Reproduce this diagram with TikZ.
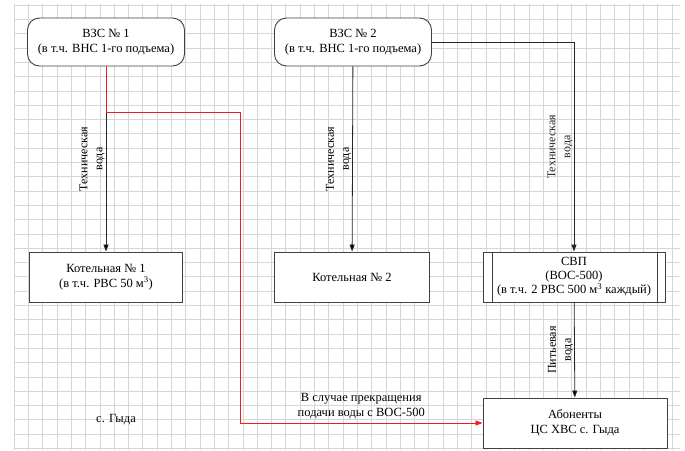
\documentclass[tikz,border=0pt]{standalone}
\usepackage{fontspec}
\setmainfont{Liberation Serif}
\usetikzlibrary{arrows.meta, positioning}
\definecolor{reserve}{RGB}{232,32,36}

\begin{document}
\begin{tikzpicture} [x=1pt, y=-1pt, font=\fontsize{12.5}{15}\selectfont,
		site/.style={draw=black!75, line width=0.9pt, fill=white, rounded corners=12pt, minimum width=157pt, minimum height=48pt, align=center},
		unit/.style={draw=black!75, line width=0.9pt, fill=white, minimum height=50pt, align=center, inner sep=1pt},
		flowlabel/.style={rotate=90, anchor=south, align=center, font=\fontsize{12}{15}\selectfont, inner sep=1pt},
		gridline/.style={black!16, line width=0.5pt}]
		\useasboundingbox (0,0) rectangle (685,450);
		% grid
		\foreach \i in {0,...,46}
			\draw [gridline] (14+\i*14.3, 4) -- (14+\i*14.3, 450);
		\foreach \j in {0,...,31}
			\draw [gridline] (14, 5+\j*14.3) -- (680, 5+\j*14.3);

		\node (vzs1) [site] at (106,42) {ВЗС № 1\\(в т.ч. ВНС 1-го подъема)};
		\node (vzs2) [site] at (353,42) {ВЗС № 2\\(в т.ч. ВНС 1-го подъема)};
		\node (kot1) [unit, minimum width=153pt] at (106,277) {Котельная № 1\\(в т.ч. РВС 50 м\textsuperscript{3})};
		\node (kot2) [unit, minimum width=155pt] at (352,277) {Котельная № 2};
		\node (svp) [unit, minimum width=182pt, font=\fontsize{12.5}{14}\selectfont] at (574,277) {СВП\\(ВОС-500)\\(в т.ч. 2 РВС 500 м\textsuperscript{3} каждый)};
		\node (abon) [unit, minimum width=184pt] at (575,423) {Абоненты\\ЦС ХВС с. Гыда};
		\node (gyda) at (116,420) {с. Гыда};
		\coordinate (turn) at (240,112);

		% process box sides
		\draw [black!75, line width=0.9pt] ([xshift=10pt]svp.north west) -- ([xshift=10pt]svp.south west);
		\draw [black!75, line width=0.9pt] ([xshift=-8pt]svp.north east) -- ([xshift=-8pt]svp.south east);

		\path [-{Triangle[length=7pt, width=5pt]}, line width=0.8pt, draw=black!85]
		(vzs1) edge node [flowlabel] {Техническая\\вода} (kot1)
		(vzs2) edge node [flowlabel] {Техническая\\вода} (kot2)
		(svp) edge node [flowlabel] {Питьевая\\вода} (abon)
		;
		\draw [-{Triangle[length=7pt, width=5pt]}, line width=0.8pt, black!85]
		(vzs2.east) -| node [pos=0.75, flowlabel] {Техническая\\вода} (svp.north);

		\draw [-{Triangle[length=7pt, width=5pt]}, line width=0.8pt, reserve]
		(vzs1.south) -- (vzs1.south |- turn) -- (turn) |- node [pos=0.75, above, align=center, text=black] {В случае прекращения\\подачи воды с ВОС-500} (abon.west);
	\end{tikzpicture}
\end{document}
